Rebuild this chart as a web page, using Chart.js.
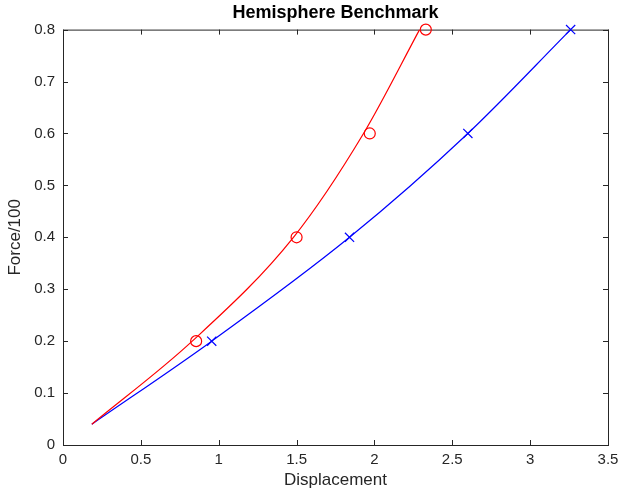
<!DOCTYPE html>
<html>
<head>
<meta charset="utf-8">
<script src="https://cdn.jsdelivr.net/npm/chart.js@4"></script>
<style>
  html, body { margin: 0; padding: 0; background: #fff; }
  #wrap { width: 619px; height: 493px; }
</style>
</head>
<body>
<div id="wrap"><canvas id="chart" width="619" height="493"></canvas></div>
<script>
// curve
const redCurveX = [0.185, 0.83, 1.48, 1.93, 2.29];
const redCurveY = [0.04, 0.2, 0.4, 0.6, 0.8];
const blueCurveX = [0.185, 0.955, 1.84, 2.6, 3.26];
const blueCurveY = [0.04, 0.2, 0.4, 0.6, 0.8];

// benchmark markers
const redMarkX = [0.855, 1.5, 1.97, 2.33];
const redMarkY = [0.2, 0.4, 0.6, 0.8];
const blueMarkX = [0.955, 1.84, 2.6, 3.26];
const blueMarkY = [0.2, 0.4, 0.6, 0.8];

const xTicks = [0, 0.5, 1, 1.5, 2, 2.5, 3, 3.5];
const yTicks = [0, 0.1, 0.2, 0.3, 0.4, 0.5, 0.6, 0.7, 0.8];

const pts = (xs, ys) => xs.map((x, i) => ({ x: x, y: ys[i] }));

const axisColor = "#262626";
const fontFamily = "'Liberation Sans', Arial, sans-serif";

/* MATLAB style box with inward ticks */
const boxPlugin = {
    id: "box",
    beforeDatasetsDraw(chart) {
        const { ctx, chartArea: a, scales } = chart;
        ctx.save();
        ctx.strokeStyle = axisColor;
        ctx.lineWidth = 1;
        ctx.strokeRect(a.left + 0.5, a.top + 0.5, a.right - a.left, a.bottom - a.top);
        ctx.beginPath();
        xTicks.forEach(v => {
            const px = Math.round(scales.x.getPixelForValue(v)) + 0.5;
            ctx.moveTo(px, a.bottom); ctx.lineTo(px, a.bottom - 5);
            ctx.moveTo(px, a.top); ctx.lineTo(px, a.top + 5);
        });
        yTicks.forEach(v => {
            const py = Math.round(scales.y.getPixelForValue(v)) + 0.5;
            ctx.moveTo(a.left, py); ctx.lineTo(a.left + 5, py);
            ctx.moveTo(a.right, py); ctx.lineTo(a.right - 5, py);
        });
        ctx.stroke();
        ctx.restore();
    }
};

new Chart(document.getElementById("chart").getContext("2d"), {
    type: "scatter",
    data: {
        datasets: [
            {
                type: "line",
                data: pts(redCurveX, redCurveY),
                borderColor: "#ff0000",
                borderWidth: 1.2,
                pointRadius: 0,
                cubicInterpolationMode: "monotone",
                fill: false
            },
            {
                type: "line",
                data: pts(blueCurveX, blueCurveY),
                borderColor: "#0000ff",
                borderWidth: 1.2,
                pointRadius: 0,
                cubicInterpolationMode: "monotone",
                fill: false
            },
            {
                data: pts(redMarkX, redMarkY),
                pointStyle: "circle",
                pointRadius: 5.5,
                borderColor: "#ff0000",
                backgroundColor: "rgba(0,0,0,0)",
                borderWidth: 1.2,
                clip: false
            },
            {
                data: pts(blueMarkX, blueMarkY),
                pointStyle: "crossRot",
                pointRadius: 6.5,
                borderColor: "#0000ff",
                backgroundColor: "#0000ff",
                borderWidth: 1.2,
                clip: false
            }
        ]
    },
    options: {
        responsive: false,
        animation: false,
        layout: { padding: { top: 0, right: 11, left: 0, bottom: 0 } },
        plugins: {
            legend: { display: false },
            tooltip: { enabled: false },
            title: {
                display: true,
                text: "Hemisphere Benchmark",
                fullSize: false,
                color: "#000",
                font: { family: fontFamily, size: 18, weight: "bold", lineHeight: 1.2 },
                padding: { top: 2, bottom: 6 }
            }
        },
        scales: {
            x: {
                type: "linear",
                min: 0,
                max: 3.5,
                afterBuildTicks: s => { s.ticks = xTicks.map(v => ({ value: v })); },
                afterFit: s => { s.height = 48; s.paddingLeft = 0; s.paddingRight = 0; },
                grid: { display: false, drawTicks: false },
                border: { display: false },
                ticks: {
                    color: axisColor,
                    padding: 6,
                    font: { family: fontFamily, size: 15 },
                    callback: v => String(v)
                },
                title: {
                    display: true,
                    text: "Displacement",
                    color: axisColor,
                    padding: { top: 2, bottom: 2 },
                    font: { family: fontFamily, size: 17, lineHeight: 1.2 }
                }
            },
            y: {
                type: "linear",
                min: 0,
                max: 0.8,
                afterBuildTicks: s => { s.ticks = yTicks.map(v => ({ value: v })); },
                afterFit: s => { s.width = 63; s.paddingTop = 0; s.paddingBottom = 0; },
                grid: { display: false, drawTicks: false },
                border: { display: false },
                ticks: {
                    color: axisColor,
                    padding: 8,
                    font: { family: fontFamily, size: 15 },
                    callback: v => String(v)
                },
                title: {
                    display: true,
                    text: "Force/100",
                    color: axisColor,
                    padding: { top: 5, bottom: 4 },
                    font: { family: fontFamily, size: 17, lineHeight: 1.2 }
                }
            }
        }
    },
    plugins: [boxPlugin]
});
</script>
</body>
</html>
